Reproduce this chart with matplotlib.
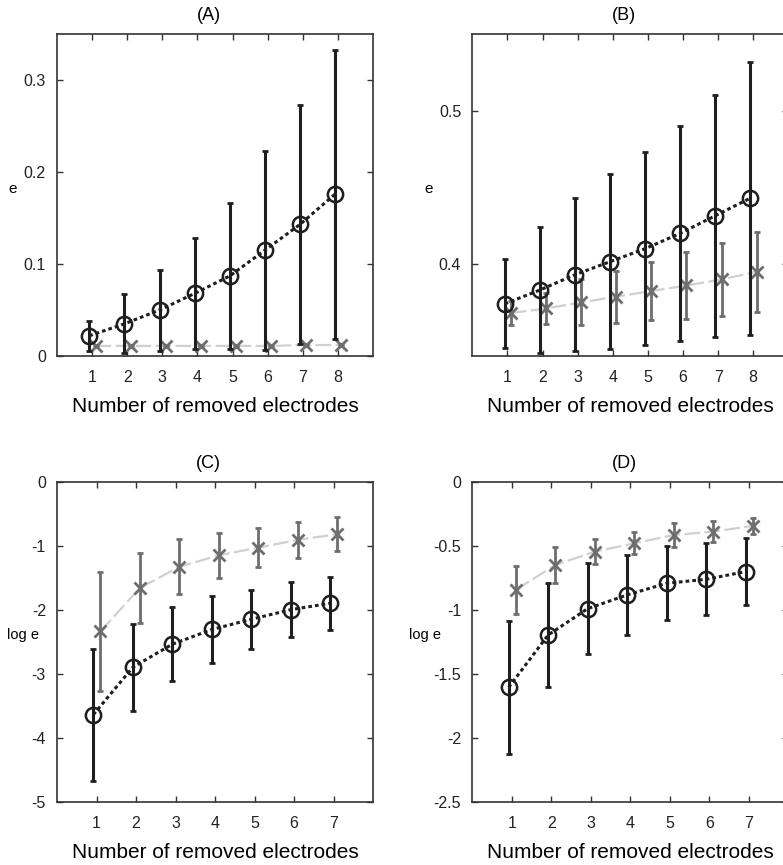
import matplotlib
matplotlib.use('Agg')
import matplotlib.pyplot as plt

# x values (number of removed electrodes)
nA = [1, 2, 3, 4, 5, 6, 7, 8]
nC = [1, 2, 3, 4, 5, 6, 7]

# (A) mean e and std, black circles / gray crosses
a_circ = [0.022, 0.035, 0.050, 0.068, 0.087, 0.115, 0.143, 0.176]
a_circ_err = [0.016, 0.032, 0.044, 0.060, 0.079, 0.108, 0.130, 0.157]
a_cross = [0.011, 0.011, 0.011, 0.011, 0.011, 0.011, 0.012, 0.012]
a_cross_err = [0.001, 0.001, 0.001, 0.001, 0.001, 0.001, 0.001, 0.001]

# (B)
b_circ = [0.374, 0.383, 0.393, 0.4015, 0.410, 0.420, 0.4315, 0.443]
b_circ_err = [0.029, 0.041, 0.050, 0.057, 0.063, 0.070, 0.079, 0.089]
b_cross = [0.368, 0.371, 0.375, 0.3787, 0.3824, 0.386, 0.390, 0.395]
b_cross_err = [0.008, 0.010, 0.015, 0.017, 0.019, 0.022, 0.024, 0.026]

# (C) log e
c_circ = [-3.64, -2.90, -2.54, -2.31, -2.15, -2.00, -1.90]
c_circ_err = [1.03, 0.68, 0.58, 0.52, 0.46, 0.43, 0.415]
c_cross = [-2.34, -1.66, -1.33, -1.15, -1.03, -0.91, -0.82]
c_cross_err = [0.925, 0.55, 0.43, 0.35, 0.305, 0.28, 0.26]

# (D) log e
d_circ = [-1.607, -1.198, -0.992, -0.885, -0.794, -0.763, -0.703]
d_circ_err = [0.52, 0.41, 0.354, 0.315, 0.29, 0.28, 0.263]
d_cross = [-0.846, -0.651, -0.547, -0.482, -0.417, -0.39, -0.346]
d_cross_err = [0.19, 0.138, 0.10, 0.085, 0.09, 0.08, 0.065]

plt.rcParams['font.family'] = ['Liberation Sans', 'DejaVu Sans']
plt.rcParams['axes.unicode_minus'] = False

fig = plt.figure(figsize=(7.83, 8.65), dpi=100)

W = 0.4036
H = 0.3723
axA = fig.add_axes([0.0728, 0.5884, W, H])
axB = fig.add_axes([0.6032, 0.5884, W, H])
axC = fig.add_axes([0.0728, 0.0732, W, 0.370])
axD = fig.add_axes([0.6032, 0.0732, W, 0.370])

dark = '#1e1e1e'
gray = '#6e6e6e'
light = '#d0d0d0'


def draw(ax, x, circ, circ_err, cross, cross_err):
    xc = [v - 0.08 for v in x]
    xx = [v + 0.10 for v in x]
    ax.plot(xx, cross, color=light, lw=1.6, ls=(0, (7, 2)), zorder=2)
    ax.errorbar(xx, cross, yerr=cross_err, fmt='x', color=gray, ms=8, mew=2,
                elinewidth=2, capsize=2.5, capthick=2, zorder=3)
    ax.errorbar(xc, circ, yerr=circ_err, fmt='none', ecolor=dark,
                elinewidth=2.2, capsize=2.5, capthick=2, zorder=4)
    ax.plot(xc, circ, color=dark, lw=2.2, ls=(0, (1.2, 1.0)), marker='o',
            ms=11, mfc='none', mec=dark, mew=1.8, zorder=5)


draw(axA, nA, a_circ, a_circ_err, a_cross, a_cross_err)
draw(axB, nA, b_circ, b_circ_err, b_cross, b_cross_err)
draw(axC, nC, c_circ, c_circ_err, c_cross, c_cross_err)
draw(axD, nC, d_circ, d_circ_err, d_cross, d_cross_err)

axA.set_xlim(0, 9)
axA.set_ylim(0, 0.35)
axA.set_yticks([0, 0.1, 0.2, 0.3])
axA.set_yticklabels(['0', '0.1', '0.2', '0.3'])

axB.set_xlim(0, 9)
axB.set_ylim(0.34, 0.55)
axB.set_yticks([0.4, 0.5])
axB.set_yticklabels(['0.4', '0.5'])

axC.set_xlim(0, 8)
axC.set_ylim(-5, 0)
axC.set_yticks([0, -1, -2, -3, -4, -5])
axC.set_yticklabels(['0', '-1', '-2', '-3', '-4', '-5'])

axD.set_xlim(0, 8)
axD.set_ylim(-2.5, 0)
axD.set_yticks([0, -0.5, -1, -1.5, -2, -2.5])
axD.set_yticklabels(['0', '-0.5', '-1', '-1.5', '-2', '-2.5'])

for ax, title, x in [(axA, '(A)', nA), (axB, '(B)', nA), (axC, '(C)', nC), (axD, '(D)', nC)]:
    ax.set_xticks(x)
    ax.tick_params(direction='in', top=True, right=True, length=4, width=1,
                   labelsize=11.5, colors='#333333', labelcolor='#222222')
    ax.tick_params(axis='x', pad=10)
    ax.tick_params(axis='y', pad=8)
    for s in ax.spines.values():
        s.set_color('#333333')
        s.set_linewidth(1.2)
    ax.set_title(title, fontsize=13, pad=10, x=0.48)
    ax.set_xlabel('Number of removed electrodes', fontsize=15, labelpad=9)

axA.set_ylabel('e', rotation=0, fontsize=11, va='center', ha='center')
axA.yaxis.set_label_coords(-0.139, 0.52)
axB.set_ylabel('e', rotation=0, fontsize=11, va='center', ha='center')
axB.yaxis.set_label_coords(-0.139, 0.52)
axC.set_ylabel('log e', rotation=0, fontsize=10.5, va='center', ha='center')
axC.yaxis.set_label_coords(-0.108, 0.52)
axD.set_ylabel('log e', rotation=0, fontsize=10.5, va='center', ha='center')
axD.yaxis.set_label_coords(-0.151, 0.52)

fig.savefig('out.png', dpi=100)
